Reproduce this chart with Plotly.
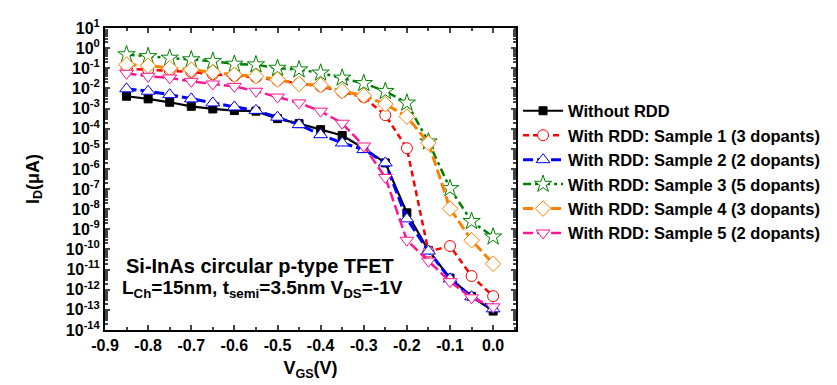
import plotly.graph_objects as go

vgs = [-0.85, -0.80, -0.75, -0.70, -0.65, -0.60, -0.55, -0.50, -0.45,
       -0.40, -0.35, -0.30, -0.25, -0.20, -0.15, -0.10, -0.05, 0.00]

# log10 of I_D (uA)
log_without = [-2.39, -2.52, -2.69, -2.89, -3.02, -3.10, -3.13, -3.50, -3.75,
               -4.05, -4.34, -4.97, -5.70, -8.18, -10.05, -11.42, -12.33, -13.06]
log_s1 = [-1.02, -1.07, -1.12, -1.18, -1.30, -1.38, -1.45, -1.60, -1.75,
          -1.90, -2.18, -2.44, -3.33, -4.97, -10.10, -9.83, -11.32, -12.32]
log_s2 = [-2.02, -2.14, -2.31, -2.52, -2.72, -2.92, -3.09, -3.43, -3.80,
          -4.30, -4.71, -5.04, -5.70, -8.48, -10.08, -11.46, -12.35, -12.95]
log_s3 = [-0.32, -0.41, -0.49, -0.57, -0.65, -0.79, -0.82, -0.99, -1.07,
          -1.23, -1.48, -1.75, -2.14, -2.72, -4.65, -6.97, -8.60, -9.37]
log_s4 = [-0.82, -0.87, -0.99, -1.07, -1.20, -1.32, -1.40, -1.56, -1.78,
          -1.84, -2.14, -2.36, -2.78, -3.40, -4.71, -7.97, -9.54, -10.71]
log_s5 = [-1.25, -1.40, -1.48, -1.65, -1.78, -1.90, -2.14, -2.43, -2.72,
          -3.13, -3.73, -4.86, -6.42, -9.54, -10.58, -11.60, -12.40, -12.85]

names = ["Without RDD",
         "With RDD: Sample 1 (3 dopants)",
         "With RDD: Sample 2 (2 dopants)",
         "With RDD: Sample 3 (5 dopants)",
         "With RDD: Sample 4 (3 dopants)",
         "With RDD: Sample 5 (2 dopants)"]

xtick_vals = [-0.9, -0.8, -0.7, -0.6, -0.5, -0.4, -0.3, -0.2, -0.1, 0.0]
xtick_text = ["-0.9", "-0.8", "-0.7", "-0.6", "-0.5", "-0.4", "-0.3", "-0.2", "-0.1", "0.0"]
ytick_exps = list(range(1, -15, -1))

series = [
    (log_without, "#000000", "solid", "square", 8, "#000000", 2.2),
    (log_s1, "#ff0000", "6px,4px", "circle", 11, "white", 2.5),
    (log_s2, "#0000ff", "10px,4px", "triangle-up", 12, "white", 3),
    (log_s3, "#008000", "8px,4px,3px,4px", "star", 13, "white", 2.5),
    (log_s4, "#ff8000", "10px,4px", "diamond", 12, "white", 3),
    (log_s5, "#ff1493", "10px,4px", "triangle-down", 12, "white", 2.5),
]

fig = go.Figure()
for (vals, col, dash, sym, sz, fill, lw), nm in zip(series, names):
    fig.add_trace(go.Scatter(
        x=vgs, y=[10 ** v for v in vals], name=nm, mode="lines+markers",
        line=dict(color=col, width=lw, dash=dash),
        marker=dict(symbol=sym, size=sz, color=fill, line=dict(color=col, width=1)),
    ))

font_fam = "Arial, Liberation Sans, sans-serif"
fig.update_layout(
    width=837, height=385,
    margin=dict(l=97, r=329, t=20, b=63, autoexpand=False),
    plot_bgcolor="white", paper_bgcolor="white",
    font=dict(family=font_fam, color="black", size=14),
    legend=dict(x=1.005, xanchor="left", y=0.783, yanchor="top",
                font=dict(family=font_fam, size=16.5, weight="bold"),
                tracegroupgap=0, itemwidth=40, bgcolor="rgba(0,0,0,0)"),
    xaxis=dict(range=[-0.9, 0.053], tickvals=xtick_vals, ticktext=xtick_text,
               automargin=False,
               showline=True, linewidth=2, linecolor="black", mirror="ticks",
               ticks="inside", ticklen=5, tickwidth=1.5, showgrid=False, zeroline=False,
               tickfont=dict(size=16, weight="bold"),
               minor=dict(ticks="inside", ticklen=3, dtick=0.05, tick0=-0.9, showgrid=False),
               title=dict(text="<b>V<sub>GS</sub>(V)</b>", font=dict(size=18), standoff=8)),
    yaxis=dict(type="log", range=[-14, 1],
               tickvals=[10 ** e for e in ytick_exps],
               ticktext=["10<sup>%d</sup>" % e for e in ytick_exps],
               automargin=False,
               showline=True, linewidth=2, linecolor="black", mirror="ticks",
               ticks="inside", ticklen=5, tickwidth=1.5, showgrid=False, zeroline=False,
               tickfont=dict(size=16, weight="bold"),
               minor=dict(ticks="inside", ticklen=3, dtick="D1", showgrid=False),
               title=dict(text="<b>I<sub>D</sub>(μA)</b>", font=dict(size=18), standoff=22)),
    showlegend=True,
)

fig.add_annotation(xref="paper", yref="paper", x=0.378, y=0.168, showarrow=False,
                   text="<b>Si-InAs circular p-type TFET</b>", font=dict(size=20))
fig.add_annotation(xref="paper", yref="paper", x=0.384, y=0.09, showarrow=False,
                   text="<b>L<sub>Ch</sub>=15nm, t<sub>semi</sub>=3.5nm V<sub>DS</sub>=-1V</b>",
                   font=dict(size=19))

fig.write_html("out.html")
